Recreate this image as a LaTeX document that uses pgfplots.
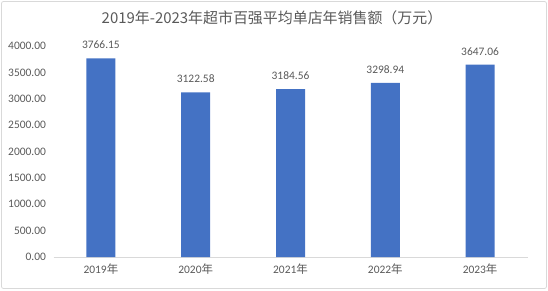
\documentclass[border=0pt]{standalone}
\usepackage{fontspec}
\setmainfont{Carlito}
\newfontfamily\cjk{Noto Sans CJK SC}
\usepackage{pgfplots}
\pgfplotsset{compat=1.18}
\definecolor{barblue}{HTML}{4472C4}
\definecolor{txtgray}{HTML}{595959}
\definecolor{lngray}{HTML}{D9D9D9}
\begin{document}
\begin{tikzpicture}[x=1bp,y=1bp]
\useasboundingbox (0,0) rectangle (548,290);
\draw[lngray, line width=0.8bp, rounded corners=2bp] (1.5,1.5) rectangle (546.5,288.5);
\node[txtgray, font={\cjk\fontsize{15}{18}\selectfont}] at (272,272) {2019年-2023年超市百强平均单店年销售额（万元）};
\begin{axis}[
  at={(53.5bp,33bp)}, anchor=south west,
  scale only axis, width=474bp, height=211bp,
  xmin=-0.5, xmax=4.5, ymin=0, ymax=4000,
  ytick={0,500,...,4000},
  xtick=data,
  xticklabels={2019{\cjk 年},2020{\cjk 年},2021{\cjk 年},2022{\cjk 年},2023{\cjk 年}},
  axis x line*=bottom, axis y line*=left,
  x axis line style={-, draw=lngray, line width=0.8bp},
  y axis line style={draw=none},
  major tick length=0pt,
  tick label style={txtgray, font=\fontsize{11.5}{13}\selectfont},
  xticklabel style={yshift=-3bp},
  yticklabel style={xshift=-4bp, /pgf/number format/.cd, fixed, fixed zerofill, precision=2, 1000 sep={}, assume math mode=true},
  /pgf/number format/assume math mode=true,
  ybar, bar width=29bp,
  nodes near coords,
  nodes near coords style={/tikz/yshift=6bp, txtgray, font=\fontsize{11.5}{13}\selectfont, /pgf/number format/.cd, fixed, fixed zerofill, precision=2, 1000 sep={}, assume math mode=true},
  clip=false,
]
\addplot[fill=barblue, draw=none] coordinates {(0,3766.15) (1,3122.58) (2,3184.56) (3,3298.94) (4,3647.06)};
\end{axis}
\end{tikzpicture}
\end{document}
